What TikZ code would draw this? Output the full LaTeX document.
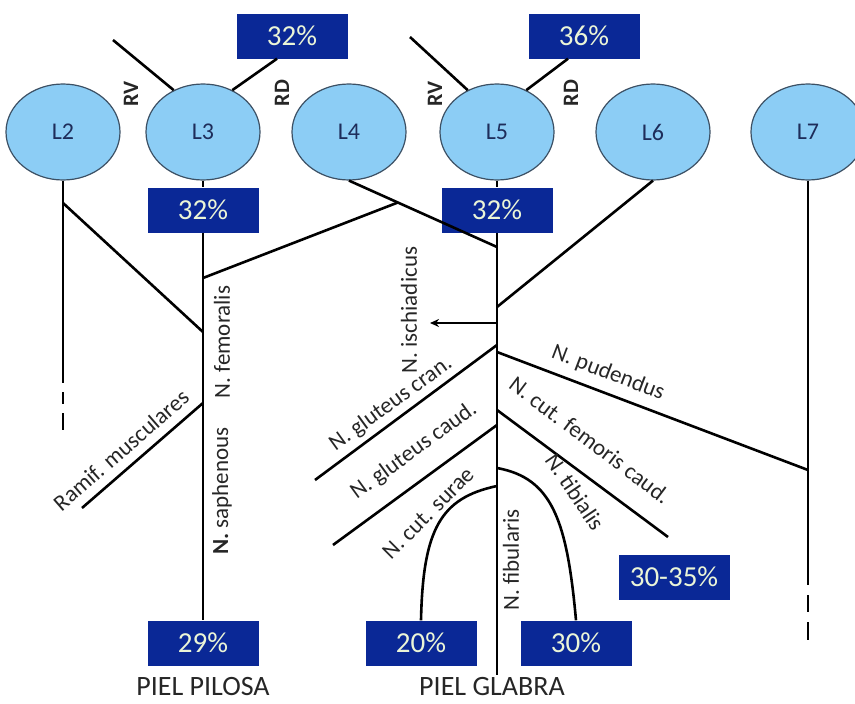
\documentclass[tikz,border=0pt]{standalone}
\usepackage{fontspec}
\setmainfont{Carlito}
\usetikzlibrary{shapes.geometric,arrows.meta,calc}
\definecolor{segblue}{RGB}{140,205,245}
\definecolor{segline}{RGB}{60,80,100}
\definecolor{segtext}{RGB}{30,45,90}
\definecolor{boxblue}{RGB}{10,40,150}
\definecolor{boxtext}{RGB}{235,245,215}
\tikzset{
	seg/.style={ellipse,draw=segline,line width=1.2pt,fill=segblue,text=segtext,minimum width=114pt,minimum height=96pt,inner sep=0pt,font=\fontsize{24}{26}\selectfont},
	pct/.style={fill=boxblue,text=boxtext,minimum width=111pt,minimum height=45pt,inner sep=0pt,font=\fontsize{29}{31}\selectfont},
	nerve/.style={line width=2.6pt},
	lbl/.style={font=\fontsize{23}{25}\selectfont,text=black!85,inner sep=0pt},
	root/.style={font=\fontsize{22}{24}\selectfont\bfseries,text=black!85,inner sep=0pt,rotate=90},
	skin/.style={font=\fontsize{28}{30}\selectfont,text=black!85,inner sep=0pt}
}
\begin{document}
\begin{tikzpicture}[x=1pt,y=-1pt]
		\useasboundingbox (0,0) rectangle (855,704);
		
		% segmentos
		\node[seg] (L2) at (63,132) {L2};
		\node[seg] (L3) at (203,132) {L3};
		\node[seg] (L4) at (349,132) {L4};
		\node[seg] (L5) at (497,132) {L5};
		\node[seg] (L6) at (653,132) {L6};
		\node[seg] (L7) at (808,132) {L7};
		
		\node[pct] (t3) at (292,36) {32\%};
		\node[pct] (t5) at (584,36) {36\%};
		\node[pct] (m3) at (203,210) {32\%};
		\node[pct] (m5) at (497,210) {32\%};
		\node[pct] (b29) at (203,643) {29\%};
		\node[pct] (b20) at (421,643) {20\%};
		\node[pct] (b30) at (576,643) {30\%};
		\node[pct] (b3035) at (674,577) {30-35\%};
		
		\coordinate (rv3) at (113,40);
		\coordinate (rv5) at (410,37);
		\coordinate (L2end) at (63,383);
		\coordinate (L2tail) at (63,430);
		\coordinate (L7end) at (808,585);
		\coordinate (L7tail) at (808,640);
		\coordinate (j2) at (63,203);
		\coordinate (f0) at (203,278);
		\coordinate (f1) at (203,332);
		\coordinate (f2) at (203,403);
		\coordinate (ram) at (82,508);
		\coordinate (s1) at (497,247);
		\coordinate (s2) at (497,307);
		\coordinate (s3) at (497,323);
		\coordinate (isch) at (430,323);
		\coordinate (s4) at (497,345);
		\coordinate (s5) at (497,352);
		\coordinate (s6) at (497,410);
		\coordinate (s7) at (497,425);
		\coordinate (s8) at (497,468);
		\coordinate (s9) at (497,486);
		\coordinate (gcr) at (315,480);
		\coordinate (gca) at (333,545);
		\coordinate (pud) at (808,470);
		\coordinate (cfc) at (668,537);
		\coordinate (fib) at (497,675);
		
		% raices
		\draw[nerve] (L3.125) -- (rv3);
		\draw[nerve] (L3.55) -- ([xshift=-15pt]t3.south);
		\draw[nerve] (L5.125) -- (rv5);
		\draw[nerve] (L5.55) -- ([xshift=-16pt]t5.south);
		
		% plexo
		\draw[nerve] (L2.south) -- (L2end);
		\draw[nerve,dash pattern=on 12pt off 9pt on 17pt off 20pt] ([yshift=-9pt]L2end) -- (L2tail);
		\draw[nerve] (j2) -- (f1);
		\draw[nerve] (L3.south) -- (m3.north);
		\draw[nerve] (m3.south) -- (b29.north);
		\draw[nerve] (L4.south) -- (s1);
		\draw[nerve] ($(L4.south)!0.33!(s1)$) -- (f0);
		\draw[nerve] (f2) -- (ram);
		\draw[nerve] (L5.south) -- (m5.north);
		\draw[nerve] (m5.south) -- (fib);
		\draw[nerve] (L6.south) -- (s2);
		\draw[nerve] (L7.south) -- (L7end);
		\draw[nerve,dash pattern=on 17pt off 10pt on 18pt off 20pt] ([yshift=-10pt]L7end) -- (L7tail);
		\draw[line width=2pt,-{Stealth[length=9pt,width=8pt]}] (s3) -- (isch);
		
		% ramas
		\draw[nerve] (s4) -- (gcr);
		\draw[nerve] (s5) -- (pud);
		\draw[nerve] (s6) -- (cfc);
		\draw[nerve] (s7) -- (gca);
		\draw[nerve] (s8) .. controls (552,478) and (567,520) .. (b30.north);
		\draw[nerve] (s9) .. controls (440,498) and (423,530) .. (b20.north);
		
		\node[root] (rvL3) at (131,94) {RV};
		\node[root] (rdL3) at (282,93) {RD};
		\node[root] (rvL5) at (435,94) {RV};
		\node[root] (rdL5) at (571,93) {RD};
		
		\node[lbl,rotate=90] (femo) at (222,342) {N. femoralis};
		\node[lbl,rotate=90] (saph) at (222,491) {\textbf{N.} saphenous};
		\node[lbl,rotate=90] (ischl) at (409,310) {N. ischiadicus};
		\node[lbl,rotate=90] (fibl) at (511,560) {N. fibularis};
		\node[lbl,rotate=41] (raml) at (121,450) {Ramif. musculares};
		\node[lbl,rotate=36] (gcrl) at (391,404) {N. gluteus cran.};
		\node[lbl,rotate=36] (gcal) at (414,451) {N. gluteus caud.};
		\node[lbl,rotate=45] (surl) at (428,513) {N. cut. surae};
		\node[lbl,rotate=-21] (pudl) at (608,373) {N. pudendus};
		\node[lbl,rotate=-37] (cfcl) at (590,440) {N. cut. femoris caud.};
		\node[lbl,rotate=-56] (tibl) at (575,492) {N. tibialis};
		
		\node[skin] (pilosa) at (203,687) {PIEL PILOSA};
		\node[skin] (glabra) at (492,687) {PIEL GLABRA};
		
\end{tikzpicture}
\end{document}
